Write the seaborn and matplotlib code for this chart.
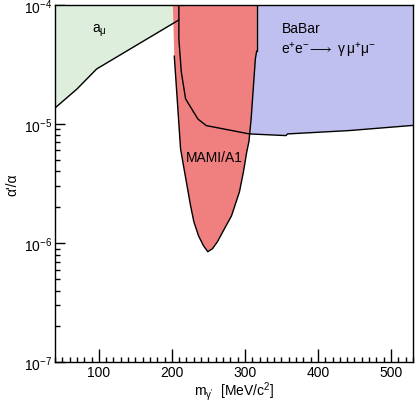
import math
import matplotlib
matplotlib.use("Agg")
import matplotlib.pyplot as plt
import matplotlib.ticker as mticker
import seaborn as sns
import pandas as pd

# dados (massa em MeV/c^2, acoplamento alpha'/alpha)
amu_mass = [40, 70, 97, 209.6]
amu_coupling = [1.36e-5, 1.96e-5, 2.89e-5, 7.45e-5]

mami_mass = [201.4, 203.3, 211.9, 217.4, 225.6, 230.1, 236.5, 243.3, 249.2,
             255.6, 262.5, 272, 281.6, 292.5, 298, 302.5, 305.5, 308.5, 314.3, 316.1, 316.1]
mami_coupling = [1e-4, 3.72e-5, 6.17e-6, 3.96e-6, 2.06e-6, 1.51e-6, 1.15e-6, 9.5e-7, 8.47e-7,
                 8.97e-7, 1.03e-6, 1.32e-6, 1.69e-6, 2.69e-6, 3.96e-6, 5.82e-6, 7.1e-6,
                 1.10e-5, 3.51e-5, 4.09e-5, 1e-4]

babar_mass = [209.6, 209.6, 212.9, 218.8, 235.6, 247, 306.1, 356.2, 358.4, 442.7, 528.7, 530]
babar_coupling = [1e-4, 5.15e-5, 2.73e-5, 1.62e-5, 1.10e-5, 9.68e-6, 8.24e-6, 7.98e-6, 8.24e-6,
                  8.79e-6, 9.70e-6, 9.72e-6]

y_top = 1e-4

sns.set_style("ticks")
plt.rcParams['font.family'] = ['Liberation Sans', 'DejaVu Sans']
plt.rcParams['mathtext.fontset'] = 'custom'
plt.rcParams['mathtext.rm'] = 'Liberation Sans'
plt.rcParams['mathtext.it'] = 'Liberation Sans'
plt.rcParams['mathtext.bf'] = 'Liberation Sans:bold'
plt.rcParams['mathtext.fallback'] = 'stixsans'
plt.rcParams['font.size'] = 10
for k in ('text.color', 'axes.labelcolor', 'xtick.color', 'ytick.color', 'axes.edgecolor'):
    plt.rcParams[k] = 'black'

fig = plt.figure(figsize=(4.15, 4.02), dpi=100)
ax = fig.add_axes([0.1325, 0.0963, 0.8625, 0.8895])

# regioes excluidas
ax.fill(babar_mass + [530], babar_coupling + [y_top], color='#c0c0f0', lw=0, zorder=1)
ax.fill_between(amu_mass, amu_coupling, y_top, color='#ddeedd', lw=0, zorder=1)
ax.fill(mami_mass, mami_coupling, color='#f08080', lw=0, zorder=2)

df_amu = pd.DataFrame({'m': amu_mass, 'a': amu_coupling})
df_mami = pd.DataFrame({'m': mami_mass[1:-1], 'a': mami_coupling[1:-1]})
df_babar = pd.DataFrame({'m': babar_mass, 'a': babar_coupling})
for d in (df_amu, df_mami, df_babar):
    sns.lineplot(data=d, x='m', y='a', sort=False, estimator=None,
                 color='black', lw=1.0, ax=ax, zorder=3)
ax.plot(mami_mass[-2:], mami_coupling[-2:], color='black', lw=1.0, zorder=3)

ax.set_yscale('log')
ax.set_xlim(40, 530)
ax.set_ylim(1e-7, 1e-4)

ax.xaxis.set_major_locator(mticker.MultipleLocator(100))
ax.xaxis.set_minor_locator(mticker.MultipleLocator(10))
ax.yaxis.set_major_locator(mticker.LogLocator(base=10, numticks=10))
ax.yaxis.set_minor_locator(mticker.LogLocator(base=10, subs=range(2, 10), numticks=20))
ax.yaxis.set_minor_formatter(mticker.NullFormatter())
ax.yaxis.set_major_formatter(mticker.FuncFormatter(
    lambda v, p: r"$\mathregular{10^{%d}}$" % round(math.log10(v))))

ax.tick_params(axis='x', which='major', direction='in', length=9.4, width=1, pad=2,
               top=False, labelsize=10)
ax.tick_params(axis='x', which='minor', direction='in', length=3.6, width=1, top=False)
ax.tick_params(axis='y', which='major', direction='in', length=7.2, width=1, pad=2,
               right=False, labelsize=10)
ax.tick_params(axis='y', which='minor', direction='in', length=3.6, width=1, right=False)
for s in ax.spines.values():
    s.set_visible(True)
    s.set_linewidth(1.0)
    s.set_color('black')
    s.set_zorder(5)

ax.set_xlabel(r"m$_{\mathregular{\gamma'}}$  [MeV/c$^{\mathregular{2}}$]", fontsize=10, labelpad=0)
ax.set_ylabel("α'/α", fontsize=10, labelpad=3)

ax.text(90.4, 5.9e-5, r"a$_{\mathregular{\mu}}$", fontsize=10, ha='left', va='baseline', zorder=4)
ax.text(350, 5.9e-5, "BaBar", fontsize=10, ha='left', va='baseline', zorder=4)
ax.text(349.5, 3.92e-5, r"$\mathregular{e^{+}e^{-}\!\longrightarrow\ \gamma\,\mu^{+}\mu^{-}}$",
        fontsize=10, ha='left', va='baseline', zorder=4)
ax.text(258, 4.9e-6, "MAMI/A1", fontsize=10, ha='center', va='baseline', zorder=4)

fig.savefig("out.png", dpi=100)
